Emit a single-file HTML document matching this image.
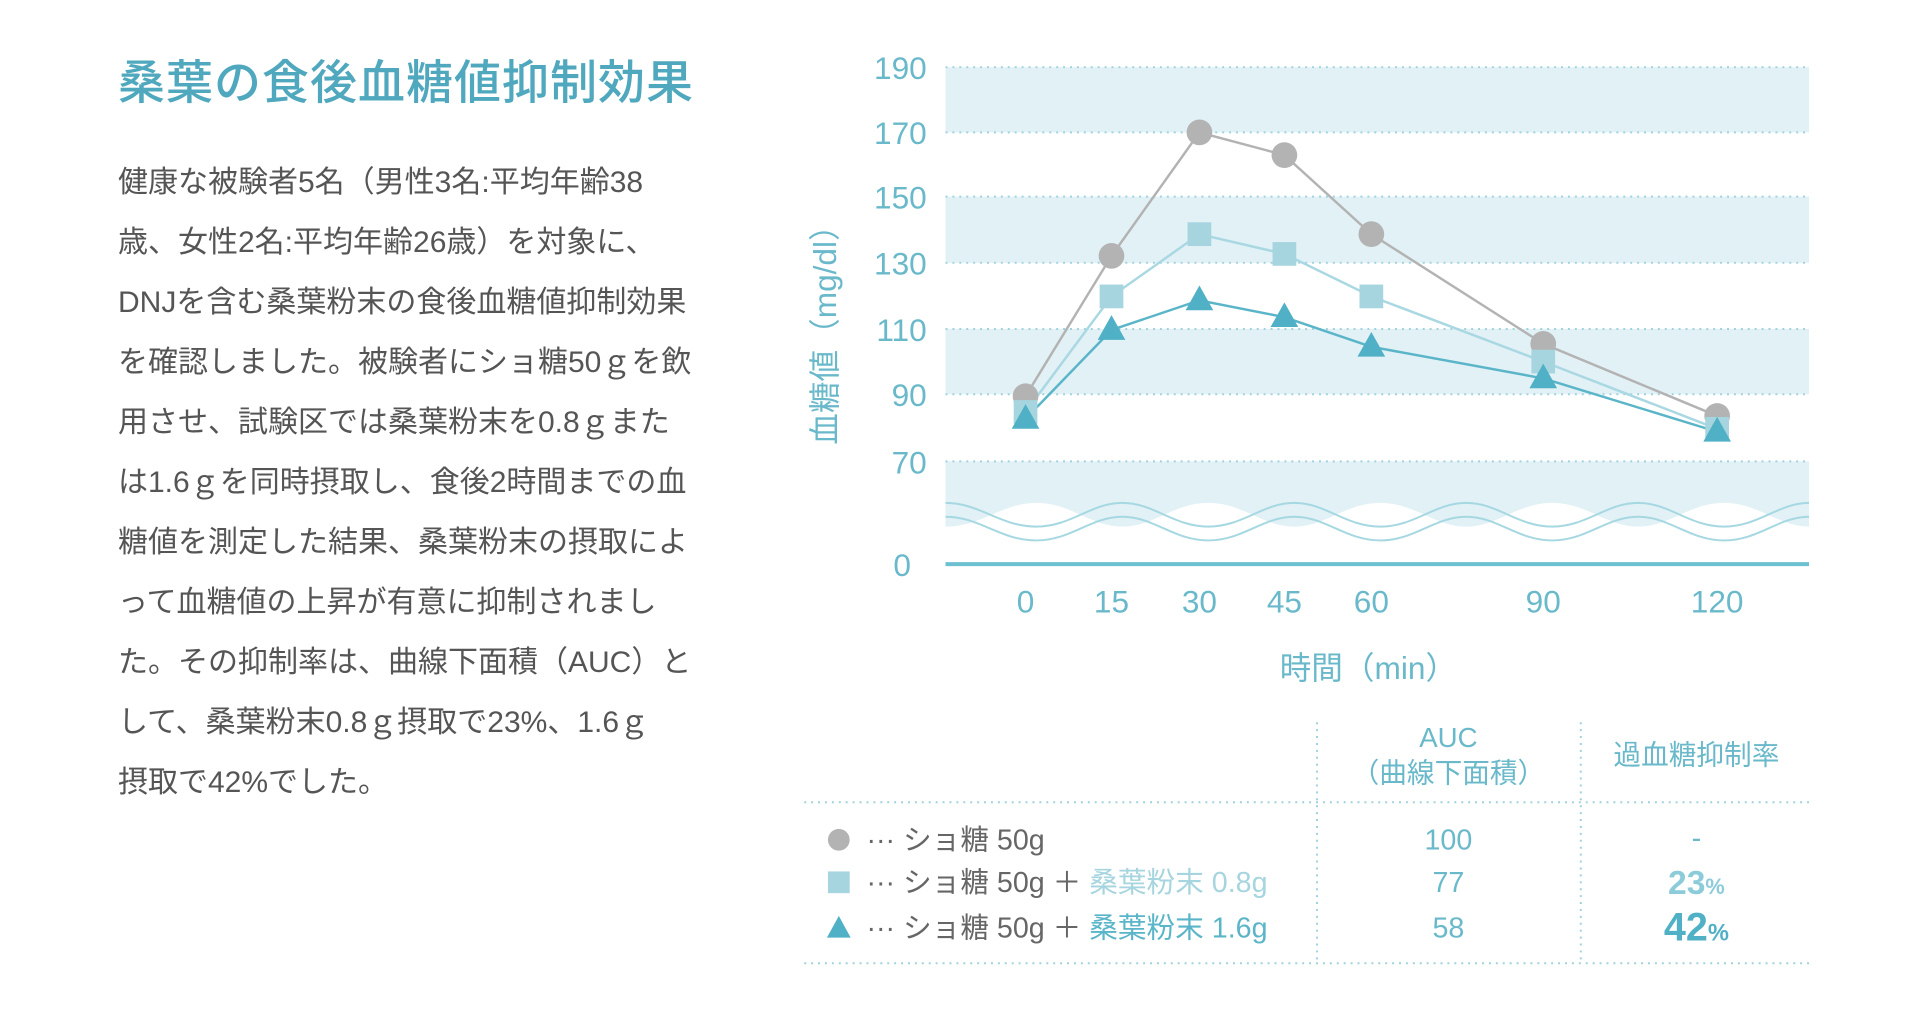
<!DOCTYPE html>
<html><head><meta charset="utf-8"><style>
html,body{margin:0;padding:0;background:#fff;width:1920px;height:1009px;overflow:hidden}
.t{position:absolute;left:118px;top:44px;font:500 47px "Liberation Sans","Noto Sans CJK JP",sans-serif;color:#4fa8bd;white-space:nowrap;letter-spacing:1px}
.b{position:absolute;left:118px;top:153px;font:30px/60px "Liberation Sans","Noto Sans CJK JP",sans-serif;color:#555;white-space:nowrap}
svg{position:absolute;left:0;top:0}
text{font-family:"Liberation Sans","Noto Sans CJK JP",sans-serif}
</style></head><body>
<div class="t">桑葉の食後血糖値抑制効果</div>
<div class="b">健康な被験者5名（男性3名:平均年齢38<br>歳、女性2名:平均年齢26歳）を対象に、<br>DNJを含む桑葉粉末の食後血糖値抑制効果<br>を確認しました。被験者にショ糖50ｇを飲<br>用させ、試験区では桑葉粉末を0.8ｇまた<br>は1.6ｇを同時摂取し、食後2時間までの血<br>糖値を測定した結果、桑葉粉末の摂取によ<br>って血糖値の上昇が有意に抑制されまし<br>た。その抑制率は、曲線下面積（AUC）と<br>して、桑葉粉末0.8ｇ摂取で23%、1.6ｇ<br>摂取で42%でした。</div>
<svg width="1920" height="1009" viewBox="0 0 1920 1009">
<g transform="scale(0.988)">
<g fill="#e1f1f6">
<rect x="957" y="68" width="874" height="66"/>
<rect x="957" y="199" width="874" height="67"/>
<rect x="957" y="333" width="874" height="66"/>
<path d="M957 467H1831V533C1800 533 1780 509 1745 509C1710 509 1690 533 1658 533C1626 533 1606 509 1571 509C1536 509 1516 533 1484 533C1452 533 1432 509 1397 509C1362 509 1342 533 1310 533C1278 533 1258 509 1223 509C1188 509 1168 533 1136 533C1104 533 1084 509 1049 509C1014 509 994 533 957 533Z"/>
</g>
<g fill="none" stroke="#a6d8e2" stroke-width="2">
<path d="M957 509C992 509 1012 533 1049 533C1084 533 1104 509 1136 509C1168 509 1188 533 1223 533C1258 533 1278 509 1310 509C1342 509 1362 533 1397 533C1432 533 1452 509 1484 509C1516 509 1536 533 1571 533C1606 533 1626 509 1658 509C1690 509 1710 533 1745 533C1780 533 1800 509 1831 509"/>
<path d="M957 523C992 523 1012 547 1049 547C1084 547 1104 523 1136 523C1168 523 1188 547 1223 547C1258 547 1278 523 1310 523C1342 523 1362 547 1397 547C1432 547 1452 523 1484 523C1516 523 1536 547 1571 547C1606 547 1626 523 1658 523C1690 523 1710 547 1745 547C1780 547 1800 523 1831 523"/>
</g>
<g stroke="#9fd2de" stroke-width="2" stroke-dasharray="2 5">
<line x1="957" y1="68" x2="1831" y2="68"/><line x1="957" y1="134" x2="1831" y2="134"/>
<line x1="957" y1="199" x2="1831" y2="199"/><line x1="957" y1="266" x2="1831" y2="266"/>
<line x1="957" y1="333" x2="1831" y2="333"/><line x1="957" y1="399" x2="1831" y2="399"/>
<line x1="957" y1="467" x2="1831" y2="467"/>
<line x1="814" y1="812" x2="1831" y2="812"/><line x1="814" y1="975" x2="1831" y2="975"/>
<line x1="1333" y1="731" x2="1333" y2="973"/><line x1="1600" y1="731" x2="1600" y2="973"/>
</g>
<line x1="957" y1="571" x2="1831" y2="571" stroke="#6cc0d0" stroke-width="4"/>
<g fill="#6ab9cb" font-size="32" text-anchor="end">
<text x="938" y="80">190</text><text x="938" y="146">170</text><text x="938" y="211">150</text>
<text x="938" y="278">130</text><text x="938" y="345">110</text><text x="938" y="411">90</text>
<text x="938" y="479">70</text><text x="922" y="583">0</text>
</g>
<g fill="#6ab9cb" font-size="32" text-anchor="middle">
<text x="1038" y="620">0</text><text x="1125" y="620">15</text><text x="1214" y="620">30</text>
<text x="1300" y="620">45</text><text x="1388" y="620">60</text><text x="1562" y="620">90</text><text x="1738" y="620">120</text>
<text x="1385" y="687">時間（min）</text>
<text transform="translate(846,331) rotate(-90)">血糖値（mg/dl）</text>
</g>
<polyline fill="none" stroke="#b3b3b3" stroke-width="2.5" points="1038,401 1125,259 1214,134 1300,157 1388,237 1562,348 1738,421"/>
<polyline fill="none" stroke="#a9d8e3" stroke-width="2.5" points="1038,417 1125,300 1214,237 1300,257 1388,300 1562,366 1738,434"/>
<polyline fill="none" stroke="#5bb5c9" stroke-width="2.5" points="1038,424 1125,334 1214,304 1300,321 1388,351 1562,383 1738,437"/>
<g fill="#b3b3b3">
<circle cx="1038" cy="401" r="13"/><circle cx="1125" cy="259" r="13"/><circle cx="1214" cy="134" r="13"/>
<circle cx="1300" cy="157" r="13"/><circle cx="1388" cy="237" r="13"/><circle cx="1562" cy="348" r="13"/><circle cx="1738" cy="421" r="13"/>
</g>
<g fill="#a6d5df">
<rect x="1026" y="405" width="24" height="24"/><rect x="1113" y="288" width="24" height="24"/><rect x="1202" y="225" width="24" height="24"/>
<rect x="1288" y="245" width="24" height="24"/><rect x="1376" y="288" width="24" height="24"/><rect x="1550" y="354" width="24" height="24"/><rect x="1726" y="422" width="24" height="24"/>
</g>
<g fill="#4fb0c6">
<path d="M1038 409l14 25h-28z"/><path d="M1125 319l14 25h-28z"/><path d="M1214 289l14 25h-28z"/>
<path d="M1300 306l14 25h-28z"/><path d="M1388 336l14 25h-28z"/><path d="M1562 368l14 25h-28z"/><path d="M1738 422l14 25h-28z"/>
</g>
<g font-size="28" text-anchor="middle" fill="#6ab9cb">
<text x="1466" y="756">AUC</text><text x="1466" y="792">（曲線下面積）</text>
<text x="1717" y="774">過血糖抑制率</text>
</g>
<circle cx="849" cy="850" r="11" fill="#b3b3b3"/>
<rect x="838" y="882" width="22" height="22" fill="#a6d5df"/>
<path d="M849 927l12 22h-24z" fill="#4fb0c6"/>
<g font-size="29" fill="#666">
<text x="877" y="860">··· ショ糖 50g</text>
<text x="877" y="903">··· ショ糖 50g ＋ <tspan fill="#a6d5df">桑葉粉末 0.8g</tspan></text>
<text x="877" y="949">··· ショ糖 50g ＋ <tspan fill="#5bb5c9">桑葉粉末 1.6g</tspan></text>
</g>
<g font-size="29" fill="#6ab9cb" text-anchor="middle">
<text x="1466" y="860">100</text><text x="1466" y="903">77</text><text x="1466" y="949">58</text>
<text x="1717" y="858">-</text>
<text x="1717" y="905" font-weight="bold" font-size="34" fill="#8ccbd9">23<tspan font-size="22">%</tspan></text>
<text x="1717" y="952" font-weight="bold" font-size="40" fill="#4fb0c6">42<tspan font-size="24">%</tspan></text>
</g>
</g>
</svg>
</body></html>
